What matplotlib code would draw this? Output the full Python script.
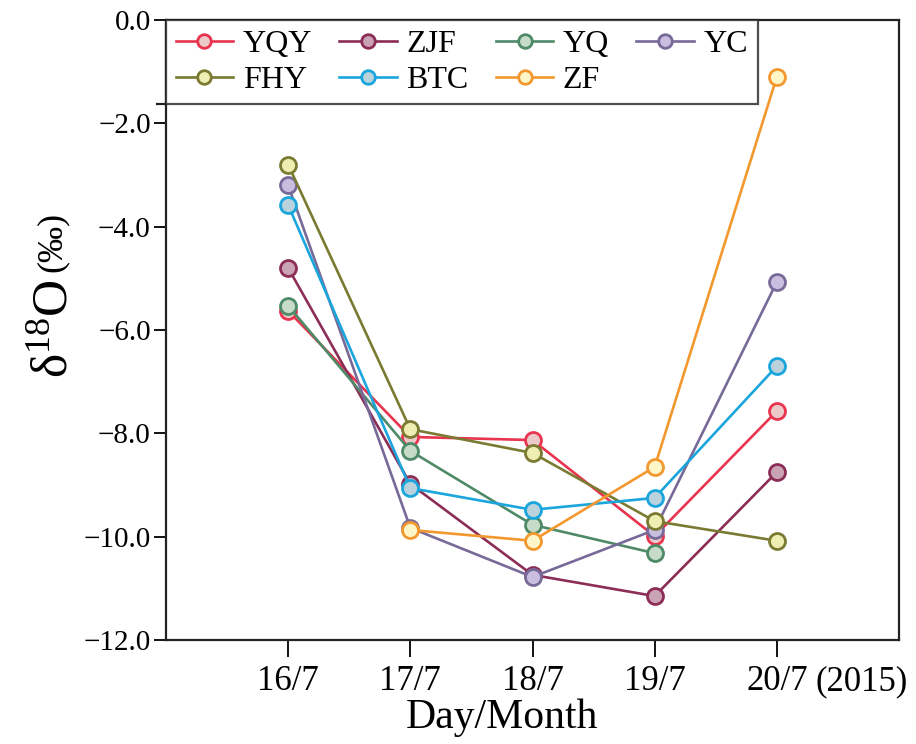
import numpy as np
import matplotlib
matplotlib.use('Agg')
import matplotlib.pyplot as plt
from matplotlib.lines import Line2D

# ---------------- data ----------------
days = ['16/7', '17/7', '18/7', '19/7', '20/7']
day_pos = [1, 2, 3, 4, 5]

yqy = [-5.63, -8.07, -8.13, -9.99, -7.57]
zjf = [-4.80, -8.98, -10.74, -11.15, -8.75]
yq = [-5.53, -8.34, -9.77, -10.32, np.nan]
yc = [-3.20, -9.83, -10.78, -9.87, -5.07]
fhy = [-2.80, -7.92, -8.38, -9.70, -10.08]
btc = [-3.58, -9.06, -9.48, -9.25, -6.70]
zf = [np.nan, -9.87, -10.08, -8.65, -1.10]

names = ['YQY', 'ZJF', 'YQ', 'YC', 'FHY', 'BTC', 'ZF']
series = [yqy, zjf, yq, yc, fhy, btc, zf]
line_c = ['#e8344e', '#8c2d57', '#4f8a68', '#776a98', '#7a7a32', '#1aa6dc', '#f3982e']
face_c = ['#eccaca', '#c9a2b4', '#c6dcc8', '#c9bde0', '#eeeeb2', '#b9d2dc', '#fff6c8']

y_ticks = [-12, -10, -8, -6, -4, -2, 0]

# ---------------- style ----------------
plt.rcParams['font.family'] = 'Liberation Serif'
plt.rcParams['mathtext.fontset'] = 'custom'
plt.rcParams['mathtext.rm'] = 'Liberation Serif'
plt.rcParams['mathtext.it'] = 'Liberation Serif:italic'

W, H = 916, 744
fig = plt.figure(figsize=(W / 100, H / 100), dpi=100)
ax = fig.add_axes([166 / W, 1 - 640 / H, (899 - 166) / W, (640 - 20) / H])

handles = {}
for nm, ys, lc, fc in zip(names, series, line_c, face_c):
    ys = np.array(ys, dtype=float)
    ok = ~np.isnan(ys)
    h, = ax.plot(np.array(day_pos)[ok], ys[ok], color=lc, lw=1.9, marker='o',
                 ms=11.5, mfc=fc, mec=lc, mew=2.0)
    handles[nm] = h

ax.set_xlim(0, 6)
ax.set_ylim(-12, 0)
ax.set_xticks(day_pos)
ax.set_xticklabels(days)
ax.set_yticks(y_ticks)
ax.set_yticklabels([('\u2212%.1f' % abs(v)) if v < 0 else '0.0' for v in y_ticks])
ax.tick_params(axis='y', direction='out', length=9, width=1.3, labelsize=21, pad=2)
ax.tick_params(axis='x', direction='out', length=12, width=1.3, labelsize=25, pad=6)
for s in ax.spines.values():
    s.set_linewidth(1.6)
    s.set_color('#222222')

# x label and year note
fig.text(502 / W, 1 - 718 / H, 'Day/Month', fontsize=30, ha='center', va='center')
fig.text(908 / W, 1 - 682 / H, '(2015)', fontsize=25, ha='right', va='center')

# y label: big delta-18-O plus smaller per-mil part
fig.text(67 / W, 1 - 378 / H, r'$\mathrm{\delta^{18}O}$', fontsize=37, rotation=90,
         rotation_mode='anchor', ha='left', va='baseline')
fig.text(61 / W, 1 - 272 / H, '(‰)', fontsize=26, rotation=90,
         rotation_mode='anchor', ha='left', va='baseline')

# legend, filled column by column so it reads row-wise
order = ['YQY', 'FHY', 'ZJF', 'BTC', 'YQ', 'ZF', 'YC']
leg = ax.legend([handles[k] for k in order], order, loc='upper left',
                bbox_to_anchor=(0.0, 1.0), borderaxespad=0, ncol=4,
                fontsize=23, frameon=True, fancybox=False, edgecolor='#222222',
                handlelength=1.8, handletextpad=0.3, columnspacing=0.85,
                labelspacing=0.2, borderpad=0.3, markerscale=0.85)
leg.get_frame().set_linewidth(1.6)
# bottom edge of the legend frame pokes out past the left spine
ax.add_line(Line2D([-0.075, 0], [-1.62, -1.62], color='#222222', lw=1.6, clip_on=False))

fig.savefig('out.png', dpi=100)
